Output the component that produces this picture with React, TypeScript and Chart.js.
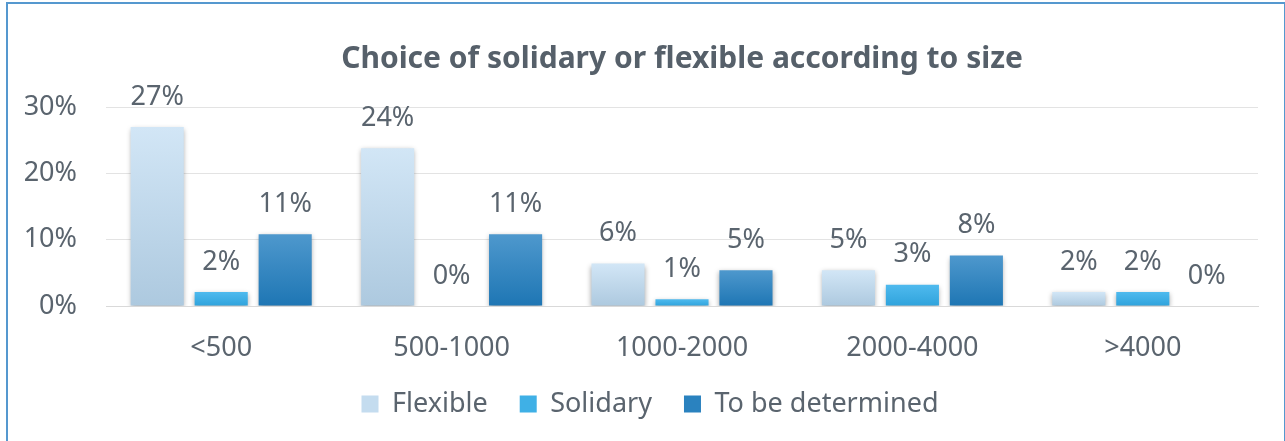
import React, { useEffect, useRef } from "react";
import { Chart, registerables } from "chart.js";

Chart.register(...registerables);

const categories = ["<500", "500-1000", "1000-2000", "2000-4000", ">4000"];
const flexible = [27.0, 23.8, 6.4, 5.4, 2.1];
const solidary = [2.1, 0, 1.0, 3.2, 2.1];
const toBeDetermined = [10.8, 10.8, 5.4, 7.6, 0];
const seriesNames = ["Flexible", "Solidary", "To be determined"];
const yTicks = [0, 10, 20, 30];

const TEXT = "#5a646e";
const FONT = "'Noto Sans', 'Open Sans', sans-serif";

const gradStops: [string, string][] = [
  ["#d2e6f6", "#adc9df"],
  ["#4fbaee", "#2fa3dc"],
  ["#4e98cd", "#1e76b4"],
];
const legendColors = ["#c4dcef", "#3fb0e6", "#2a82bf"];

function barGradient(idx: number) {
  return (ctx: any) => {
    const chart = ctx.chart;
    const area = chart.chartArea;
    if (!area || ctx.type !== "data") return gradStops[idx][1];
    const y = chart.scales.y;
    const v = ctx.parsed ? ctx.parsed.y : ctx.raw;
    const top = y.getPixelForValue(v);
    const bottom = y.getPixelForValue(0);
    if (!isFinite(top) || Math.abs(bottom - top) < 1) return gradStops[idx][1];
    const g = chart.ctx.createLinearGradient(0, top, 0, bottom);
    g.addColorStop(0, gradStops[idx][0]);
    g.addColorStop(1, gradStops[idx][1]);
    return g;
  };
}

const shadowPlugin = {
  id: "barShadow",
  beforeDatasetsDraw(chart: any) {
    const c = chart.ctx;
    c.save();
    c.shadowColor = "rgba(0,0,0,0.35)";
    c.shadowBlur = 5;
    c.shadowOffsetX = 0;
    c.shadowOffsetY = 2;
  },
  afterDatasetsDraw(chart: any) {
    chart.ctx.restore();
  },
};

const labelPlugin = {
  id: "valueLabels",
  afterDraw(chart: any) {
    const c = chart.ctx;
    c.save();
    c.font = `27px ${FONT}`;
    c.fillStyle = TEXT;
    c.textAlign = "center";
    c.textBaseline = "middle";
    chart.data.datasets.forEach((ds: any, di: number) => {
      const meta = chart.getDatasetMeta(di);
      meta.data.forEach((el: any, i: number) => {
        const v = ds.data[i];
        c.fillText(Math.round(v) + "%", el.x, el.y - 30);
      });
    });
    c.restore();
  },
};

const LEGEND_SHIFT = 21;
const legendShiftPlugin = {
  id: "legendShift",
  afterLayout(chart: any) {
    const lg = chart.legend;
    if (lg) {
      lg.left += LEGEND_SHIFT;
      lg.right += LEGEND_SHIFT;
    }
  },
};

export default function App() {
  const ref = useRef<HTMLCanvasElement | null>(null);
  useEffect(() => {
    document.body.style.margin = "0";
    if (!ref.current) return;
    const data = [flexible, solidary, toBeDetermined];
    const chart = new Chart(ref.current, {
      type: "bar",
      data: {
        labels: categories,
        datasets: data.map((d, i) => ({
          label: seriesNames[i],
          data: d,
          backgroundColor: barGradient(i),
          borderWidth: 0,
          categoryPercentage: 0.833,
          barPercentage: 0.83,
        })),
      },
      options: {
        responsive: false,
        animation: false,
        layout: { padding: { left: 0, right: 27, bottom: 13.5, top: 0 } },
        plugins: {
          tooltip: { enabled: false },
          title: {
            display: true,
            fullSize: false,
            text: "Choice of solidary or flexible according to size",
            color: "#56606a",
            font: { family: FONT, size: 30, weight: "bold" },
            padding: { top: 41, bottom: 30 },
          },
          legend: {
            position: "bottom",
            labels: {
              color: TEXT,
              font: { family: FONT, size: 27 },
              boxWidth: 17,
              boxHeight: 17,
              padding: 32,
              generateLabels: () =>
                seriesNames.map((n, i) => ({
                  text: n,
                  fillStyle: legendColors[i],
                  strokeStyle: legendColors[i],
                  lineWidth: 0,
                  fontColor: TEXT,
                  datasetIndex: i,
                  hidden: false,
                })),
            },
          },
        },
        scales: {
          x: {
            grid: { display: false, drawTicks: false },
            border: { display: true, color: "#d9d9d9", width: 1 },
            ticks: { color: TEXT, font: { family: FONT, size: 27 }, padding: 26 },
            afterFit: (axis: any) => {
              axis.height = 52.5;
            },
          },
          y: {
            min: 0,
            max: 30,
            afterBuildTicks: (axis: any) => {
              axis.ticks = yTicks.map((v) => ({ value: v }));
            },
            afterFit: (axis: any) => {
              axis.width = 106;
            },
            grid: { color: "#e3e3e3", lineWidth: 1, drawTicks: false },
            border: { display: false },
            ticks: {
              color: TEXT,
              font: { family: FONT, size: 27 },
              padding: 29,
              callback: (v: any) => v + "%",
            },
          },
        },
      },
      plugins: [shadowPlugin, labelPlugin, legendShiftPlugin],
    });
    return () => chart.destroy();
  }, []);
  return (
    <div style={{ position: "relative", width: 1285, height: 441, overflow: "hidden", background: "#fff" }}>
      <canvas ref={ref} width={1285} height={441} style={{ display: "block", width: 1285, height: 441 }} />
      <div
        style={{
          position: "absolute",
          left: 6,
          top: 2,
          width: 1276,
          height: 480,
          border: "2px solid #5598cf",
          pointerEvents: "none",
        }}
      />
    </div>
  );
}
